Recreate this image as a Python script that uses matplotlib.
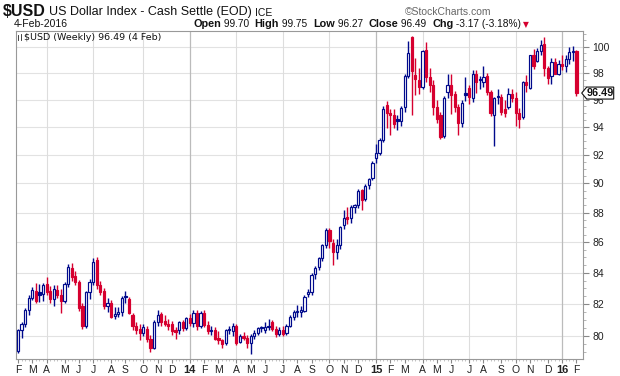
import matplotlib
matplotlib.use("Agg")
import matplotlib.pyplot as plt
import numpy as np
from datetime import date, timedelta
from matplotlib.ticker import FixedLocator, NullFormatter, FixedFormatter
from matplotlib.patches import Polygon
from matplotlib.transforms import IdentityTransform

plt.rcParams['font.family'] = ['Liberation Sans', 'DejaVu Sans']

# ---------------- data (weekly candles, week of 4-Feb-2013 .. week of 1-Feb-2016) -------------
first_week = date(2013, 2, 4)
opens = [79.10, 80.35, 80.75, 81.60, 82.40, 82.85, 82.75, 82.65, 83.25, 82.80,
         82.30, 82.90, 82.55, 82.20, 83.30, 84.30, 83.80, 83.40, 81.85, 80.60,
         82.75, 83.40, 84.85, 83.20, 82.80, 81.85, 82.05, 81.25, 81.40, 81.50,
         82.50, 82.35, 81.30, 80.60, 80.45, 80.20, 80.45, 79.85, 79.30, 80.85,
         81.35, 80.95, 80.75, 80.75, 80.35, 80.40, 80.90, 80.50, 81.10, 80.80,
         81.45, 80.60, 81.45, 80.70, 80.30, 80.40, 79.90, 79.75, 79.55, 80.45,
         80.30, 80.65, 79.65, 80.00, 79.90, 79.60, 80.00, 80.20, 80.50, 80.40,
         80.55, 80.85, 80.45, 80.15, 80.35, 80.20, 80.65, 81.20, 81.50, 81.50,
         81.55, 82.65, 82.75, 83.95, 84.35, 84.95, 85.85, 86.85, 85.95, 85.35,
         85.85, 87.15, 87.70, 87.65, 88.40, 88.50, 89.55, 88.90, 89.90, 90.35,
         91.75, 92.15, 93.05, 95.60, 95.05, 94.90, 94.55, 94.45, 95.45, 97.80,
         100.75, 97.85, 97.50, 96.95, 99.75, 97.70, 97.10, 95.45, 94.90, 93.35,
         96.55, 97.10, 96.40, 95.45, 94.30, 96.50, 96.85, 96.10, 97.90, 97.55,
         97.35, 97.75, 96.60, 94.85, 96.30, 96.20, 95.30, 95.45, 96.45, 96.10,
         95.00, 94.75, 97.30, 96.90, 99.40, 98.90, 99.70, 100.20, 98.35, 97.80,
         98.85, 97.95, 98.70, 98.55, 99.05, 99.60, 99.70]
highs = [80.45, 80.85, 81.75, 82.55, 83.10, 83.35, 83.30, 83.35, 83.75, 83.15,
         83.20, 83.20, 82.95, 83.40, 84.60, 84.65, 84.10, 83.55, 82.10, 82.85,
         83.60, 84.95, 85.00, 83.50, 83.05, 82.40, 82.25, 81.80, 81.80, 82.50,
         82.85, 82.45, 81.45, 80.90, 80.75, 80.75, 80.60, 80.05, 81.00, 81.60,
         81.50, 81.30, 81.05, 80.95, 80.55, 80.95, 81.00, 81.20, 81.35, 81.60,
         81.60, 81.55, 81.60, 80.95, 80.60, 80.55, 80.30, 79.85, 80.45, 80.65,
         80.80, 80.75, 80.10, 80.25, 80.05, 80.10, 80.35, 80.55, 80.65, 80.90,
         81.05, 81.00, 80.60, 80.55, 80.60, 80.75, 81.30, 81.65, 81.95, 81.85,
         82.55, 82.95, 84.00, 84.45, 85.05, 85.90, 86.95, 86.95, 86.20, 86.20,
         87.10, 88.15, 88.40, 88.50, 88.60, 89.60, 89.60, 89.95, 90.40, 91.55,
         92.80, 93.20, 95.50, 95.90, 95.30, 95.30, 94.90, 95.50, 97.95, 100.45,
         100.85, 99.10, 98.40, 99.75, 100.40, 98.40, 97.45, 95.95, 95.10, 96.30,
         97.90, 97.90, 96.65, 95.70, 95.95, 97.70, 97.10, 98.20, 98.20, 97.80,
         98.50, 98.00, 96.70, 96.20, 96.80, 96.40, 96.00, 96.90, 96.80, 96.60,
         95.35, 97.40, 97.85, 99.40, 99.80, 99.90, 100.50, 100.75, 98.50, 99.10,
         99.10, 98.95, 99.40, 99.35, 99.95, 100.05, 99.75]
lows = [78.95, 79.90, 80.55, 81.30, 82.25, 82.10, 82.15, 82.20, 82.55, 82.05,
        81.85, 82.40, 81.45, 82.05, 83.10, 83.45, 83.20, 81.55, 80.45, 80.50,
        82.30, 83.20, 82.95, 82.60, 81.70, 81.50, 81.15, 81.05, 81.20, 81.25,
        82.10, 81.40, 80.40, 80.15, 79.75, 80.00, 79.65, 79.05, 79.20, 80.60,
        80.60, 80.60, 80.40, 80.05, 79.80, 80.15, 80.30, 80.40, 80.60, 80.55,
        80.35, 80.50, 80.55, 80.15, 80.05, 79.75, 79.50, 79.30, 79.45, 80.15,
        80.00, 79.45, 79.55, 79.75, 79.25, 78.90, 79.85, 80.05, 80.25, 80.20,
        80.35, 80.30, 79.95, 80.00, 80.00, 80.05, 80.55, 81.00, 81.20, 81.20,
        81.50, 82.45, 82.60, 83.60, 84.20, 84.80, 85.60, 85.60, 84.50, 84.90,
        85.55, 86.90, 87.20, 87.30, 88.00, 88.30, 88.15, 88.75, 89.60, 90.20,
        91.45, 92.00, 92.90, 93.95, 93.40, 93.95, 93.80, 94.05, 95.10, 97.65,
        94.85, 96.35, 96.45, 96.80, 97.35, 96.60, 94.90, 94.30, 93.10, 93.20,
        96.10, 94.95, 95.10, 93.40, 94.00, 95.90, 95.70, 95.80, 96.50, 96.80,
        96.95, 96.35, 94.80, 92.60, 95.70, 94.85, 94.70, 95.30, 95.85, 94.10,
        93.90, 94.55, 96.55, 96.80, 98.30, 98.80, 99.40, 97.80, 97.20, 97.20,
        97.90, 97.85, 98.20, 98.10, 98.70, 98.90, 96.27]
closes = [80.35, 80.75, 81.60, 82.40, 82.90, 82.20, 82.60, 83.20, 82.75, 82.30,
          82.95, 82.60, 82.20, 83.30, 84.40, 83.70, 83.40, 81.75, 80.60, 82.75,
          83.40, 84.70, 83.20, 82.75, 81.85, 82.05, 81.20, 81.40, 81.50, 82.40,
          82.42, 81.45, 80.60, 80.35, 80.20, 80.55, 79.85, 79.30, 80.85, 81.30,
          80.90, 80.75, 80.65, 80.30, 80.25, 80.85, 80.50, 81.10, 80.80, 81.45,
          80.60, 81.45, 80.70, 80.30, 80.40, 79.85, 79.75, 79.50, 80.35, 80.40,
          80.65, 79.60, 80.00, 79.90, 79.60, 80.00, 80.20, 80.50, 80.55, 80.55,
          80.65, 80.45, 80.15, 80.40, 80.15, 80.65, 81.20, 81.50, 81.55, 81.60,
          82.45, 82.75, 83.85, 84.30, 84.95, 85.80, 86.85, 86.10, 85.35, 85.85,
          87.00, 87.65, 87.55, 88.40, 88.50, 89.45, 88.85, 89.85, 90.30, 91.45,
          92.15, 93.05, 95.30, 95.00, 94.85, 94.20, 94.45, 95.35, 97.75, 99.50,
          98.15, 97.55, 96.95, 99.65, 97.70, 97.10, 95.45, 94.55, 93.25, 96.15,
          97.10, 96.35, 95.45, 94.30, 95.75, 96.35, 96.20, 97.90, 97.35, 97.45,
          97.70, 96.60, 95.05, 96.15, 96.20, 95.10, 95.05, 96.45, 96.15, 95.00,
          94.60, 97.35, 97.10, 99.35, 98.55, 99.70, 100.10, 98.35, 97.60, 98.85,
          97.95, 98.70, 98.55, 99.05, 99.60, 99.66, 96.49]

month_letters = ['J', 'F', 'M', 'A', 'M', 'J', 'J', 'A', 'S', 'O', 'N', 'D']
y_ticks = [80, 82, 84, 86, 88, 90, 92, 94, 96, 98, 100]
last_close_label = "96.49"

# ---------------- figure ----------------
W, H = 620, 376
BLUE = '#000a8c'
RED = '#d6002f'
fig = plt.figure(figsize=(W / 100, H / 100), dpi=100)
fig.patch.set_facecolor('white')
ax = fig.add_axes([16 / W, (H - 359) / H, (582.7 - 16) / W, 328 / H])

n = len(closes)
x = np.arange(n)
o = np.array(opens); h = np.array(highs); l = np.array(lows); c = np.array(closes)
prev = np.r_[o[0], c[:-1]]
up = c >= prev
cols = np.where(up, BLUE, RED)
hollow = c > o

ax.vlines(x, l, h, colors=cols, linewidth=1.0, zorder=3)
bottom = np.minimum(o, c)
height = np.maximum(np.abs(c - o), 0.04)
faces = [('white' if hol else col) for hol, col in zip(hollow, cols)]
ax.bar(x, height, bottom=bottom, width=0.62, color=faces, edgecolor=cols,
       linewidth=0.85, zorder=4)

ax.set_yscale('log')
ax.set_ylim(78.60, 101.22)
ax.set_xlim(-0.56, 157.74)

# y axis on right
ax.yaxis.tick_right()
ax.yaxis.set_major_locator(FixedLocator(y_ticks))
ax.yaxis.set_major_formatter(FixedFormatter([str(v) for v in y_ticks]))
ax.yaxis.set_minor_locator(FixedLocator(np.arange(79.0, 101.01, 0.5)))
ax.yaxis.set_minor_formatter(NullFormatter())
ax.tick_params(axis='y', which='major', length=4, width=0.8, color='#888888',
               labelsize=7.5, labelcolor='#222222', pad=3, right=True, left=False)
ax.tick_params(axis='y', which='minor', length=2, width=0.6, color='#aaaaaa',
               right=True, left=False)
for v in y_ticks:
    ax.axhline(v, color='#e2e2e2', linewidth=0.8, zorder=1)

# x axis: first Monday of each month
tick_pos, tick_lab, tick_bold = [], [], []
quarter_pos, jan_pos = [], []
yy, mm = 2013, 2
while (yy, mm) <= (2016, 2):
    d = date(yy, mm, 1)
    while d.weekday() != 0:
        d += timedelta(days=1)
    idx = (d - first_week).days // 7
    tick_pos.append(idx)
    if mm == 1:
        tick_lab.append(str(yy)[2:])
        tick_bold.append(True)
        jan_pos.append(idx)
    else:
        tick_lab.append(month_letters[mm - 1])
        tick_bold.append(False)
        if mm in (4, 7, 10):
            quarter_pos.append(idx)
    mm += 1
    if mm > 12:
        mm = 1
        yy += 1

ax.xaxis.set_major_locator(FixedLocator(tick_pos))
ax.xaxis.set_major_formatter(FixedFormatter(tick_lab))
ax.xaxis.set_minor_locator(FixedLocator(x))
ax.tick_params(axis='x', which='major', length=3, width=0.8, color='#888888',
               labelsize=7.5, labelcolor='#222222', pad=1.5)
ax.tick_params(axis='x', which='minor', length=1.5, width=0.5, color='#aaaaaa')
for lab, b in zip(ax.get_xticklabels(), tick_bold):
    if b:
        lab.set_fontweight('bold')
        lab.set_fontsize(8)
for p in quarter_pos:
    ax.axvline(p, color='#dddddd', linewidth=0.8, zorder=1)
for p in jan_pos:
    ax.axvline(p, color='#bbbbbb', linewidth=0.9, zorder=1)

for s in ax.spines.values():
    s.set_color('#999999')
    s.set_linewidth(0.8)

# ---------------- header texts ----------------
renderer = fig.canvas.get_renderer()


def put(xpx, ypx, s, **kw):
    t = fig.text(xpx / W, 1 - ypx / H, s, va='baseline', ha='left', **kw)
    bb = t.get_window_extent(renderer=renderer)
    return xpx + bb.width


narrow = ['Liberation Sans Narrow', 'Liberation Sans', 'DejaVu Sans']
xe = put(3, 15.5, "$USD", fontsize=11.5, fontweight='bold', family=narrow, color='#111111')
xe = put(xe + 3, 15.5, "US Dollar Index - Cash Settle (EOD)", fontsize=9, family=narrow, color='#111111')
put(xe + 3, 15.5, "ICE", fontsize=7.5, color='#111111')
fig.text(491 / W, 1 - 15 / H, "\u00a9StockCharts.com", ha='right', va='baseline',
         fontsize=7.5, color='#666666')
put(14, 27, "4-Feb-2016", fontsize=7.5, color='#111111')

parts = [("Open", True), (" 99.70  ", False), ("High", True), (" 99.75  ", False),
         ("Low", True), (" 96.27  ", False), ("Close", True), (" 96.49  ", False),
         ("Chg", True), (" -3.17 (-3.18%)", False)]
xe = 193
for s, b in parts:
    xe = put(xe, 27, s, fontsize=7.8 if b else 7.3, fontweight='bold' if b else 'normal',
             color='#111111')
put(xe + 2, 27, "\u25bc", fontsize=5.5, color=RED, family='DejaVu Sans')

# legend inside plot
ic = [(17.5, 35, 40), (20.5, 33.5, 39.5)]
for xx, hi, lo in ic:
    fig.add_artist(plt.Line2D([xx / W, xx / W], [1 - hi / H, 1 - lo / H], color='#222222', lw=0.6))
put(24, 40.5, "$USD (Weekly) 96.49 (4 Feb)", fontsize=6.8, family='DejaVu Sans', color='#111111')

# last close marker box
fig.canvas.draw()
ypix = ax.transData.transform((0, closes[-1]))[1]
x0 = ax.transAxes.transform((1, 0))[0]
pts = [(x0 - 1, ypix), (x0 + 4, ypix + 6), (x0 + 31, ypix + 6), (x0 + 31, ypix - 6), (x0 + 4, ypix - 6)]
poly = Polygon(pts, closed=True, transform=IdentityTransform(), facecolor='white',
               edgecolor='#111111', linewidth=0.8, zorder=10, clip_on=False)
fig.add_artist(poly)
fig.text((x0 + 18) / W, ypix / H, last_close_label, ha='center', va='center',
         fontsize=7.8, fontweight='bold', color='#111111', zorder=11)

fig.savefig("out.png", dpi=100, facecolor='white')
